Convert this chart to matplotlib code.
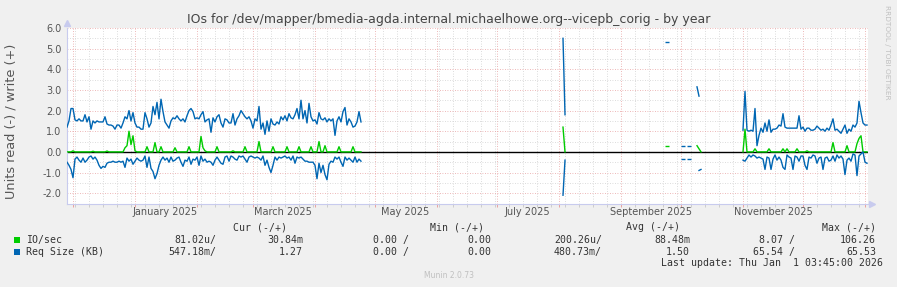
"""Munin 'IOs by year' graph for vicepb_corig, redrawn with matplotlib.

Daily samples read off the original PNG. Write values plot above zero,
read values are stored as magnitudes and plotted below zero (munin's
negative/positive convention).
"""
import numpy as np
import pandas as pd
import matplotlib

matplotlib.use("Agg")
import matplotlib.pyplot as plt
from matplotlib.patches import Rectangle
from matplotlib.ticker import FixedLocator, MultipleLocator, FormatStrFormatter

EPOCH = pd.Timestamp("2025-01-01")

# --- data -----------------------------------------------------------------
# segment 1: 2024-11-28 .. 2025-04-24, one value per day
SEG1_START = "2024-11-28"
WRITE_KB_1 = [
    1.20, 1.50, 2.10, 2.10, 1.55, 1.50, 1.60, 1.50, 1.50, 1.80,
    1.45, 1.70, 1.10, 1.50, 1.40, 1.50, 1.45, 1.45, 1.45, 1.70,
    1.35, 1.30, 1.30, 1.25, 1.10, 1.30, 1.30, 1.15, 1.40, 1.70,
    1.60, 2.00, 1.50, 1.90, 1.40, 1.20, 1.20, 1.10, 1.10, 1.90,
    1.60, 1.20, 1.40, 2.20, 1.80, 2.40, 1.60, 2.55, 1.95, 1.45,
    1.30, 1.15, 1.50, 1.65, 1.60, 1.75, 1.60, 1.50, 1.60, 1.45,
    1.75, 2.00, 2.10, 1.95, 1.60, 1.65, 1.60, 1.80, 1.95, 1.45,
    1.55, 1.60, 0.95, 1.65, 1.45, 1.70, 1.80, 1.40, 1.20, 1.60,
    1.55, 1.40, 1.40, 1.85, 1.30, 1.60, 1.75, 2.00, 1.85, 1.70,
    1.60, 1.70, 1.50, 1.15, 1.60, 1.50, 2.20, 1.10, 1.40, 0.85,
    1.50, 1.00, 1.60, 1.35, 1.30, 1.45, 1.35, 1.70, 1.55, 1.75,
    1.50, 1.85, 1.65, 1.60, 1.80, 2.10, 1.60, 2.50, 1.60, 2.00,
    1.40, 2.35, 1.70, 1.50, 1.55, 1.35, 1.90, 1.60, 1.55, 1.65,
    1.45, 1.60, 1.50, 1.60, 0.80, 1.50, 1.70, 1.45, 1.95, 2.15,
    1.30, 1.60, 1.45, 1.20, 1.25, 1.45, 1.95, 1.45,
]
READ_KB_1 = [
    0.50, 0.65, 0.85, 1.25, 0.35, 0.25, 0.40, 0.50, 0.30, 0.50,
    0.40, 0.25, 0.20, 0.35, 0.25, 0.40, 0.65, 0.80, 0.70, 0.75,
    0.55, 0.50, 0.50, 0.45, 0.50, 0.50, 0.45, 0.50, 0.45, 0.75,
    0.30, 0.45, 0.35, 0.60, 0.45, 0.30, 0.40, 0.45, 0.40, 0.20,
    0.75, 0.25, 0.80, 0.95, 1.30, 1.05, 0.65, 0.40, 0.25, 0.40,
    0.30, 0.50, 0.25, 0.45, 0.40, 0.30, 0.25, 0.50, 0.70, 0.40,
    0.45, 0.25, 0.60, 0.35, 0.40, 0.25, 0.65, 0.20, 0.45, 0.35,
    0.50, 0.45, 0.50, 0.65, 0.40, 0.25, 0.40, 0.55, 0.60, 0.25,
    0.20, 0.45, 0.20, 0.25, 0.35, 0.40, 0.20, 0.25, 0.20, 0.35,
    0.50, 0.25, 0.20, 0.25, 0.30, 0.25, 0.30, 0.40, 0.20, 0.65,
    0.40, 0.75, 1.00, 0.65, 0.25, 0.40, 0.25, 0.30, 0.25, 0.20,
    0.30, 0.25, 0.40, 0.20, 0.55, 0.25, 0.30, 0.25, 0.35, 0.45,
    0.45, 0.50, 0.50, 0.50, 0.65, 1.30, 0.55, 1.00, 0.65, 1.10,
    1.35, 0.60, 0.45, 0.50, 0.25, 0.35, 0.25, 0.50, 0.70, 0.25,
    0.40, 0.30, 0.40, 0.50, 0.25, 0.50, 0.35, 0.45,
]
WRITE_IOS_1 = [
    0, 0, 0, 0.05, 0, 0, 0, 0, 0, 0,
    0, 0, 0, 0.03, 0, 0, 0, 0, 0, 0,
    0.04, 0, 0, 0, 0, 0, 0, 0, 0, 0.20,
    0.30, 1.00, 0.35, 0.78, 0.05, 0, 0, 0, 0, 0,
    0.25, 0, 0, 0, 0.45, 0, 0, 0.25, 0, 0,
    0, 0, 0, 0, 0.20, 0, 0, 0, 0, 0,
    0, 0.25, 0, 0, 0, 0, 0, 0.75, 0.20, 0.05,
    0, 0, 0, 0, 0, 0.25, 0, 0, 0, 0,
    0, 0, 0, 0.05, 0, 0, 0, 0, 0, 0.25,
    0, 0, 0, 0, 0, 0, 0.50, 0, 0, 0,
    0, 0, 0, 0.25, 0, 0, 0, 0, 0, 0,
    0.25, 0, 0, 0, 0, 0, 0.25, 0, 0, 0,
    0, 0, 0.25, 0, 0, 0, 0.50, 0, 0, 0.30,
    0, 0, 0, 0, 0, 0, 0.25, 0, 0, 0,
    0, 0, 0, 0.25, 0, 0, 0, 0,
]

# segment 2: a handful of scattered samples, Aug - Oct 2025
NAN = np.nan
MID_DATES = ["2025-08-03", "2025-08-04", "2025-09-24", "2025-10-02",
             "2025-10-05", "2025-10-09", "2025-10-10", "2025-10-11"]
MID_WRITE_KB = [5.50, 1.80, 5.30, 0.30, 0.30, 3.15, 2.70, NAN]
MID_READ_KB = [2.10, 0.40, NAN, 0.35, 0.35, NAN, 0.90, 0.85]
MID_WRITE_IOS = [1.20, 0.00, 0.30, NAN, NAN, 0.30, 0.15, 0.00]

# segment 3: 2025-11-01 .. 2026-01-02, one value per day
SEG3_START = "2025-11-01"
WRITE_KB_3 = [
    1.05, 2.93, 1.05, 1.00, 1.05, 1.00, 2.10, 0.30, 0.80, 1.15,
    0.95, 1.40, 1.00, 1.55, 0.95, 1.10, 1.10, 1.15, 1.30, 1.25,
    1.85, 1.20, 1.15, 1.15, 1.15, 1.15, 1.15, 1.15, 1.75, 1.10,
    1.20, 1.00, 1.15, 1.15, 1.05, 1.05, 1.10, 1.25, 1.15, 1.05,
    1.10, 1.00, 1.15, 1.05, 1.30, 1.60, 1.05, 1.10, 1.00, 0.90,
    1.10, 1.30, 0.90, 1.10, 1.00, 1.30, 1.20, 1.40, 2.45, 1.90,
    1.40, 1.30, 1.30,
]
READ_KB_3 = [
    0.40, 0.45, 0.30, 0.15, 0.25, 0.15, 0.20, 0.30, 0.25, 0.30,
    0.35, 0.85, 0.25, 0.30, 0.85, 0.35, 0.15, 0.40, 0.25, 0.40,
    0.75, 0.85, 0.15, 0.25, 0.30, 0.85, 0.20, 0.25, 0.45, 0.20,
    0.20, 0.65, 0.85, 0.25, 0.30, 0.15, 0.20, 0.55, 0.30, 0.25,
    0.85, 0.30, 0.25, 0.45, 0.40, 0.20, 0.45, 0.15, 0.30, 0.20,
    0.35, 1.10, 0.40, 0.30, 0.45, 0.10, 0.15, 1.15, 0.20, 0.10,
    0.00, 0.50, 0.55,
]
WRITE_IOS_3 = [
    0.00, 1.10, 0.00, 0, 0, 0, 0.15, 0, 0, 0,
    0, 0, 0, 0.15, 0, 0, 0, 0, 0, 0,
    0.15, 0, 0.15, 0, 0, 0, 0, 0.15, 0, 0,
    0, 0, 0.05, 0, 0, 0, 0, 0, 0, 0,
    0, 0, 0, 0, 0, 0.45, 0, 0, 0, 0,
    0, 0, 0.30, 0, 0, 0, 0, 0.40, 0.65, 0.78,
    0.00, 0, 0,
]

MONTH_LABELS = ["January 2025", "March 2025", "May 2025",
                "July 2025", "September 2025", "November 2025"]
MONTH_LABEL_DATES = ["2025-01-16", "2025-03-16", "2025-05-16",
                     "2025-07-16", "2025-09-16", "2025-11-16"]

LEGEND_ROWS = [
    ("IO/sec", "#00cc00",
     ["81.02u/", "30.84m", "0.00 /", "0.00", "200.26u/", "88.48m", "8.07 /", "106.26"]),
    ("Req Size (KB)", "#0066b3",
     ["547.18m/", "1.27", "0.00 /", "0.00", "480.73m/", "1.50", "65.54 /", "65.53"]),
]
LEGEND_HEADS = ["Cur (-/+)", "Min (-/+)", "Avg (-/+)", "Max (-/+)"]

# --- helpers ----------------------------------------------------------------
W, H = 897, 287


def fx(px):
    return px / W


def fy(py):
    return 1 - py / H


def day(ts):
    return (pd.Timestamp(ts) - EPOCH).days


def daily(start, values):
    idx = pd.date_range(start, periods=len(values), freq="D")
    return pd.Series(values, index=idx, dtype=float)


FULL = pd.date_range("2024-11-28", "2026-01-02", freq="D")
X = np.asarray((FULL - EPOCH).days, dtype=float)


def assemble(seg1, mid, seg3):
    s = pd.concat([
        daily(SEG1_START, seg1),
        pd.Series(mid, index=pd.to_datetime(MID_DATES), dtype=float),
        daily(SEG3_START, seg3),
    ])
    return s.reindex(FULL).to_numpy()


def lone_points(v):
    prev = np.r_[np.nan, v[:-1]]
    nxt = np.r_[v[1:], np.nan]
    return ~np.isnan(v) & np.isnan(prev) & np.isnan(nxt)


write_kb = assemble(WRITE_KB_1, MID_WRITE_KB, WRITE_KB_3)
read_kb = assemble(READ_KB_1, MID_READ_KB, READ_KB_3)
write_ios = assemble(WRITE_IOS_1, MID_WRITE_IOS, WRITE_IOS_3)

# --- figure -----------------------------------------------------------------
fig = plt.figure(figsize=(W / 100, H / 100), dpi=100, facecolor="#f0f0f0")
AX_H = 203.5 - 28
ax = fig.add_axes([fx(67), fy(203.5), fx(868 - 67), AX_H / H])
ax.set_facecolor("white")
ax.set_xlim(-34, 366.5)
ax.set_ylim(-2.5, 6.0)

# grid: red dotted majors, grey dotted minors
months = pd.date_range("2024-12-01", "2026-01-01", freq="MS")
mondays = pd.date_range("2024-12-02", "2026-01-01", freq="W-MON")
ax.xaxis.set_major_locator(FixedLocator([day(m) for m in months]))
ax.xaxis.set_minor_locator(FixedLocator([day(m) for m in mondays]))
ax.yaxis.set_major_locator(MultipleLocator(1.0))
ax.yaxis.set_minor_locator(MultipleLocator(0.5))
ax.yaxis.set_major_formatter(FormatStrFormatter("%.1f"))
ax.set_xticklabels([])
dots = (0, (1, 2))
ax.grid(True, which="minor", color="#d0d0d0", linestyle=dots, linewidth=0.6)
ax.grid(True, which="major", color="#e8a0a0", linestyle=dots, linewidth=0.6)
ax.set_axisbelow(True)
ax.tick_params(axis="y", which="both", length=0, pad=4, labelsize=7,
               labelcolor="#555555")
ax.tick_params(axis="x", which="major", length=2.5, color="#e8a0a0", width=0.7)
ax.tick_params(axis="x", which="minor", length=2, color="#cccccc", width=0.7)

for side in ("top", "right"):
    ax.spines[side].set_visible(False)
for side in ("left", "bottom"):
    ax.spines[side].set_color("#c8cbee")
    ax.spines[side].set_linewidth(0.8)
# axis arrow heads, munin style
ax.plot([0], [1.03], marker="^", ms=4, color="#c8cbee", transform=ax.transAxes,
        clip_on=False)
ax.plot([1.005], [0], marker=">", ms=4, color="#c8cbee", transform=ax.transAxes,
        clip_on=False)

# zero rule, then the series
ax.axhline(0, color="black", linewidth=1.0, zorder=2)
green, blue = "#00cc00", "#0066b3"
ax.plot(X, write_ios, color=green, linewidth=1.0, zorder=3)
ax.plot(X, write_kb, color=blue, linewidth=1.0, zorder=3)
ax.plot(X, -read_kb, color=blue, linewidth=1.0, zorder=3)
for vals, col in ((write_ios, green), (write_kb, blue), (-read_kb, blue)):
    m = lone_points(vals)
    ax.plot(X[m], vals[m], linestyle="", marker="_", ms=2.5, mew=1.0,
            color=col, zorder=3)

for lab, d in zip(MONTH_LABELS, MONTH_LABEL_DATES):
    ax.text(day(d), -8.5 / AX_H, lab, transform=ax.get_xaxis_transform(),
            ha="center", va="center", fontsize=7, color="#555555")

fig.text(fx(11.5), fy(121), "Units read (-) / write (+)", rotation=90,
         ha="center", va="center", fontsize=9.3, color="#555555")

fig.text(0.5, fy(20), "IOs for /dev/mapper/bmedia-agda.internal.michaelhowe.org"
         "--vicepb_corig - by year", ha="center", va="center", fontsize=9,
         color="#444444")
fig.text(fx(887), fy(5), "RRDTOOL / TOBI OETIKER", rotation=270, ha="center",
         va="top", fontsize=5.3, color="#c0c0c0")

# legend table (monospace, right-aligned columns)
mono = dict(family="DejaVu Sans Mono", fontsize=7.1, color="#333333")
head_right = [287, 484, 680, 876]
for txt, xr in zip(LEGEND_HEADS, head_right):
    fig.text(fx(xr), fy(227), txt, ha="right", va="center", **mono)
col_right = [216, 303, 409, 491, 602, 690, 795, 876]
for i, (name, col, vals) in enumerate(LEGEND_ROWS):
    yy = 240 + 12 * i
    fig.patches.append(Rectangle((fx(14), fy(yy + 3)), fx(6), 6 / H,
                                 transform=fig.transFigure, facecolor=col,
                                 edgecolor="none"))
    fig.text(fx(26), fy(yy), name, ha="left", va="center", **mono)
    for v, xr in zip(vals, col_right):
        fig.text(fx(xr), fy(yy), v, ha="right", va="center", **mono)
fig.text(fx(883), fy(263), "Last update: Thu Jan  1 03:45:00 2026",
         ha="right", va="center", **mono)
fig.text(fx(449), fy(276), "Munin 2.0.73", ha="center", va="center",
         fontsize=5.5, color="#c0c0c0")

fig.savefig("out.png", dpi=100, facecolor=fig.get_facecolor())
